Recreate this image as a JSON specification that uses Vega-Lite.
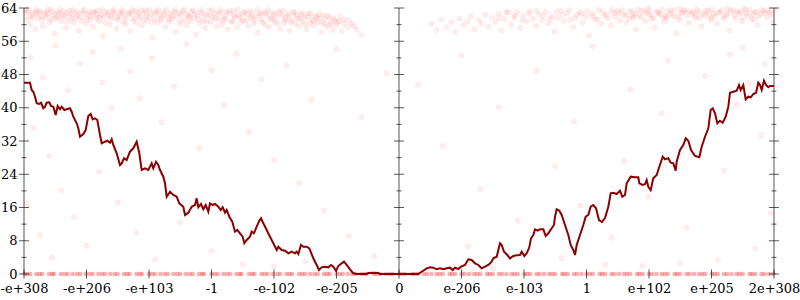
{
"$schema":"https://vega.github.io/schema/vega-lite/v6.json",
"width":750,"height":266,
"autosize":{"type":"none"},
"padding":{"left":24,"top":8,"right":26,"bottom":26},
"background":"white",
"config":{"view":{"stroke":null},"font":"DejaVu Serif"},
"resolve":{"axis":{"x":"independent","y":"independent"}},
"datasets":{
"borders":[{"x":-6},{"x":0},{"x":6}],
"yticks":[{"v":0,"k":"major"},{"v":4,"k":"minor"},{"v":8,"k":"major"},{"v":12,"k":"minor"},{"v":16,"k":"major"},{"v":20,"k":"minor"},{"v":24,"k":"major"},{"v":28,"k":"minor"},{"v":32,"k":"major"},{"v":36,"k":"minor"},{"v":40,"k":"major"},{"v":44,"k":"minor"},{"v":48,"k":"major"},{"v":52,"k":"minor"},{"v":56,"k":"major"},{"v":60,"k":"minor"},{"v":64,"k":"major"}],
"xticks":[{"v":-6},{"v":-5},{"v":-4},{"v":-3},{"v":-2},{"v":-1},{"v":0},{"v":1},{"v":2},{"v":3},{"v":4},{"v":5},{"v":6}],
"pts":[
{"x":-5.98,"y":62.9},{"x":-5.95,"y":61.2},{"x":-5.93,"y":63.4},{"x":-5.9,"y":60.1},{"x":-5.87,"y":62.3},{"x":-5.85,"y":63.0},{"x":-5.82,"y":58.9},{"x":-5.8,"y":62.6},{"x":-5.77,"y":61.5},{"x":-5.75,"y":63.3},{"x":-5.72,"y":62.0},{"x":-5.7,"y":59.7},{"x":-5.67,"y":63.1},{"x":-5.64,"y":61.8},{"x":-5.62,"y":62.7},{"x":-5.59,"y":60.6},{"x":-5.57,"y":63.5},{"x":-5.54,"y":62.2},{"x":-5.51,"y":57.8},{"x":-5.49,"y":61.4},{"x":-5.46,"y":63.0},{"x":-5.44,"y":62.4},{"x":-5.41,"y":60.9},{"x":-5.38,"y":63.2},{"x":-5.36,"y":61.9},{"x":-5.33,"y":59.3},{"x":-5.31,"y":62.8},{"x":-5.28,"y":63.4},{"x":-5.25,"y":61.1},{"x":-5.23,"y":62.5},{"x":-5.2,"y":60.4},{"x":-5.17,"y":63.1},{"x":-5.15,"y":62.0},{"x":-5.12,"y":58.6},{"x":-5.09,"y":61.7},{"x":-5.07,"y":63.3},{"x":-5.04,"y":62.6},{"x":-5.01,"y":60.2},{"x":-4.99,"y":61.3},{"x":-4.96,"y":63.0},{"x":-4.93,"y":62.1},{"x":-4.9,"y":59.5},{"x":-4.88,"y":62.9},{"x":-4.85,"y":61.6},{"x":-4.82,"y":63.4},{"x":-4.8,"y":60.8},{"x":-4.77,"y":62.3},{"x":-4.74,"y":57.2},{"x":-4.72,"y":61.9},{"x":-4.69,"y":63.1},{"x":-4.66,"y":62.4},{"x":-4.63,"y":60.0},{"x":-4.61,"y":61.5},{"x":-4.58,"y":63.2},{"x":-4.55,"y":62.7},{"x":-4.52,"y":59.1},{"x":-4.5,"y":61.2},{"x":-4.47,"y":62.8},{"x":-4.44,"y":63.5},{"x":-4.41,"y":60.6},{"x":-4.39,"y":62.0},{"x":-4.36,"y":61.3},{"x":-4.33,"y":63.0},{"x":-4.3,"y":58.4},{"x":-4.28,"y":62.5},{"x":-4.25,"y":61.0},{"x":-4.22,"y":63.3},{"x":-4.19,"y":60.3},{"x":-4.17,"y":62.2},{"x":-4.14,"y":61.7},{"x":-4.11,"y":59.8},{"x":-4.08,"y":62.9},{"x":-4.05,"y":63.4},{"x":-4.03,"y":60.9},{"x":-4.0,"y":61.8},{"x":-3.97,"y":62.6},{"x":-3.94,"y":56.9},{"x":-3.91,"y":61.4},{"x":-3.89,"y":63.1},{"x":-3.86,"y":60.5},{"x":-3.83,"y":62.3},{"x":-3.8,"y":61.1},{"x":-3.77,"y":63.2},{"x":-3.74,"y":59.4},{"x":-3.71,"y":62.0},{"x":-3.69,"y":60.7},{"x":-3.66,"y":62.7},{"x":-3.63,"y":61.5},{"x":-3.6,"y":63.0},{"x":-3.57,"y":58.2},{"x":-3.54,"y":61.9},{"x":-3.51,"y":60.2},{"x":-3.48,"y":62.5},{"x":-3.46,"y":63.3},{"x":-3.43,"y":61.2},{"x":-3.4,"y":59.9},{"x":-3.37,"y":62.1},{"x":-3.34,"y":60.8},{"x":-3.31,"y":63.1},{"x":-3.28,"y":61.6},{"x":-3.25,"y":57.6},{"x":-3.22,"y":62.4},{"x":-3.19,"y":60.4},{"x":-3.16,"y":62.9},{"x":-3.13,"y":61.0},{"x":-3.1,"y":59.2},{"x":-3.07,"y":62.2},{"x":-3.04,"y":63.4},{"x":-3.01,"y":60.6},{"x":-2.98,"y":61.7},{"x":-2.95,"y":62.8},{"x":-2.92,"y":59.6},{"x":-2.89,"y":61.3},{"x":-2.86,"y":63.0},{"x":-2.83,"y":60.1},{"x":-2.8,"y":62.0},{"x":-2.77,"y":61.4},{"x":-2.74,"y":58.8},{"x":-2.71,"y":62.6},{"x":-2.68,"y":60.9},{"x":-2.65,"y":63.2},{"x":-2.62,"y":61.8},{"x":-2.59,"y":59.3},{"x":-2.56,"y":62.3},{"x":-2.53,"y":60.5},{"x":-2.5,"y":61.1},{"x":-2.47,"y":63.1},{"x":-2.44,"y":62.4},{"x":-2.41,"y":59.7},{"x":-2.38,"y":61.6},{"x":-2.35,"y":62.9},{"x":-2.32,"y":60.3},{"x":-2.29,"y":61.9},{"x":-2.26,"y":58.1},{"x":-2.23,"y":62.7},{"x":-2.2,"y":61.2},{"x":-2.17,"y":63.0},{"x":-2.14,"y":60.0},{"x":-2.11,"y":62.2},{"x":-2.08,"y":59.4},{"x":-2.05,"y":61.5},{"x":-2.02,"y":62.8},{"x":-1.99,"y":60.7},{"x":-1.96,"y":61.8},{"x":-1.93,"y":63.2},{"x":-1.9,"y":59.0},{"x":-1.87,"y":62.1},{"x":-1.84,"y":60.4},{"x":-1.81,"y":61.6},{"x":-1.78,"y":62.6},{"x":-1.75,"y":58.5},{"x":-1.72,"y":61.0},{"x":-1.69,"y":62.9},{"x":-1.66,"y":60.2},{"x":-1.63,"y":61.4},{"x":-1.6,"y":59.6},{"x":-1.57,"y":62.4},{"x":-1.54,"y":60.8},{"x":-1.51,"y":61.9},{"x":-1.48,"y":58.9},{"x":-1.45,"y":62.7},{"x":-1.42,"y":60.3},{"x":-1.39,"y":61.2},{"x":-1.36,"y":59.8},{"x":-1.33,"y":62.0},{"x":-1.3,"y":60.6},{"x":-1.27,"y":61.5},{"x":-1.24,"y":58.3},{"x":-1.21,"y":62.3},{"x":-1.18,"y":60.1},{"x":-1.15,"y":59.4},{"x":-1.12,"y":61.7},{"x":-1.09,"y":60.5},{"x":-1.06,"y":58.7},{"x":-1.03,"y":61.1},{"x":-1.0,"y":59.9},{"x":-0.96,"y":60.8},{"x":-0.92,"y":58.4},{"x":-0.87,"y":61.3},{"x":-0.81,"y":59.5},{"x":-0.75,"y":60.2},{"x":-0.68,"y":58.8},{"x":-0.6,"y":57.5},
{"x":-5.96,"y":63.6},{"x":-5.91,"y":62.0},{"x":-5.86,"y":61.6},{"x":-5.81,"y":63.6},{"x":-5.76,"y":62.9},{"x":-5.71,"y":61.0},{"x":-5.66,"y":62.4},{"x":-5.61,"y":63.7},{"x":-5.56,"y":61.3},{"x":-5.52,"y":62.9},{"x":-5.47,"y":61.8},{"x":-5.42,"y":63.6},{"x":-5.37,"y":62.2},{"x":-5.32,"y":60.7},{"x":-5.27,"y":62.0},{"x":-5.22,"y":63.6},{"x":-5.18,"y":61.5},{"x":-5.13,"y":62.7},{"x":-5.08,"y":60.9},{"x":-5.03,"y":63.6},{"x":-4.98,"y":62.4},{"x":-4.94,"y":61.1},{"x":-4.89,"y":63.2},{"x":-4.84,"y":62.5},{"x":-4.79,"y":61.8},{"x":-4.75,"y":63.6},{"x":-4.7,"y":60.5},{"x":-4.65,"y":62.9},{"x":-4.6,"y":62.0},{"x":-4.56,"y":63.6},{"x":-4.51,"y":61.6},{"x":-4.46,"y":62.2},{"x":-4.42,"y":63.0},{"x":-4.37,"y":60.1},{"x":-4.32,"y":62.6},{"x":-4.27,"y":63.6},{"x":-4.23,"y":61.4},{"x":-4.18,"y":62.9},{"x":-4.13,"y":63.5},{"x":-4.09,"y":61.0},{"x":-4.04,"y":62.1},{"x":-3.99,"y":63.6},{"x":-3.95,"y":60.6},{"x":-3.9,"y":62.7},{"x":-3.85,"y":63.5},{"x":-3.81,"y":61.6},{"x":-3.76,"y":62.4},{"x":-3.72,"y":63.6},{"x":-3.67,"y":61.2},{"x":-3.62,"y":62.0},{"x":-3.58,"y":63.5},{"x":-3.53,"y":62.8},{"x":-3.49,"y":60.9},{"x":-3.44,"y":63.6},{"x":-3.39,"y":62.5},{"x":-3.35,"y":61.9},{"x":-3.3,"y":63.4},{"x":-3.26,"y":62.6},{"x":-3.21,"y":61.3},{"x":-3.17,"y":63.6},{"x":-3.12,"y":62.4},{"x":-3.08,"y":60.7},{"x":-3.03,"y":62.2},{"x":-2.99,"y":63.5},{"x":-2.94,"y":61.5},{"x":-2.9,"y":62.6},{"x":-2.85,"y":63.6},{"x":-2.81,"y":61.0},{"x":-2.76,"y":62.9},{"x":-2.72,"y":63.4},{"x":-2.67,"y":60.6},{"x":-2.63,"y":62.1},{"x":-2.58,"y":63.6},{"x":-2.54,"y":61.7},{"x":-2.49,"y":62.8},{"x":-2.45,"y":60.9},{"x":-2.4,"y":63.3},{"x":-2.36,"y":62.0},{"x":-2.31,"y":61.1},{"x":-2.27,"y":63.6},{"x":-2.22,"y":62.3},{"x":-2.18,"y":60.5},{"x":-2.13,"y":62.8},{"x":-2.09,"y":63.5},{"x":-2.04,"y":61.3},{"x":-2.0,"y":62.4},{"x":-1.95,"y":60.3},{"x":-1.91,"y":62.7},{"x":-1.86,"y":63.4},{"x":-1.82,"y":61.0},{"x":-1.77,"y":62.1},{"x":-1.73,"y":60.6},{"x":-1.68,"y":63.0},{"x":-1.64,"y":62.3},{"x":-1.59,"y":61.4},{"x":-1.55,"y":62.9},{"x":-1.5,"y":60.0},{"x":-1.46,"y":61.9},{"x":-1.41,"y":62.6},{"x":-1.37,"y":60.9},{"x":-1.32,"y":61.7},{"x":-1.28,"y":62.5},{"x":-1.23,"y":60.4},{"x":-1.19,"y":61.3},{"x":-1.14,"y":62.2},{"x":-1.1,"y":60.0},{"x":-1.05,"y":61.6},{"x":-0.99,"y":60.6},{"x":-0.94,"y":61.9},{"x":-0.88,"y":60.3},{"x":-0.8,"y":61.0},{"x":-0.72,"y":59.6},
{"x":0.52,"y":60.1},{"x":0.6,"y":58.7},{"x":0.68,"y":61.2},{"x":0.76,"y":59.4},{"x":0.84,"y":60.6},{"x":0.9,"y":58.2},{"x":0.97,"y":61.5},{"x":1.03,"y":59.9},{"x":1.09,"y":60.8},{"x":1.15,"y":62.0},{"x":1.21,"y":58.9},{"x":1.27,"y":61.1},{"x":1.32,"y":60.3},{"x":1.38,"y":62.4},{"x":1.43,"y":59.5},{"x":1.49,"y":61.8},{"x":1.54,"y":60.7},{"x":1.59,"y":62.6},{"x":1.64,"y":58.6},{"x":1.69,"y":61.3},{"x":1.74,"y":62.9},{"x":1.79,"y":60.0},{"x":1.84,"y":61.7},{"x":1.89,"y":63.0},{"x":1.94,"y":59.2},{"x":1.99,"y":62.2},{"x":2.04,"y":60.8},{"x":2.09,"y":63.3},{"x":2.14,"y":61.4},{"x":2.19,"y":59.7},{"x":2.24,"y":62.5},{"x":2.29,"y":61.0},{"x":2.34,"y":63.1},{"x":2.39,"y":60.4},{"x":2.44,"y":62.0},{"x":2.49,"y":58.3},{"x":2.54,"y":61.6},{"x":2.59,"y":63.4},{"x":2.64,"y":60.9},{"x":2.69,"y":62.7},{"x":2.74,"y":61.2},{"x":2.79,"y":59.4},{"x":2.84,"y":62.3},{"x":2.89,"y":63.0},{"x":2.94,"y":60.6},{"x":2.99,"y":61.9},{"x":3.04,"y":57.4},{"x":3.09,"y":62.6},{"x":3.14,"y":61.3},{"x":3.19,"y":63.5},{"x":3.24,"y":60.2},{"x":3.29,"y":62.1},{"x":3.34,"y":61.5},{"x":3.39,"y":59.8},{"x":3.44,"y":62.8},{"x":3.49,"y":63.3},{"x":3.54,"y":61.0},{"x":3.59,"y":62.4},{"x":3.64,"y":60.5},{"x":3.69,"y":63.1},{"x":3.74,"y":61.7},{"x":3.79,"y":58.8},{"x":3.84,"y":62.2},{"x":3.89,"y":63.4},{"x":3.94,"y":60.9},{"x":3.99,"y":62.6},{"x":4.04,"y":61.4},{"x":4.09,"y":59.3},{"x":4.14,"y":63.0},{"x":4.19,"y":62.3},{"x":4.24,"y":60.7},{"x":4.29,"y":61.8},{"x":4.34,"y":63.5},{"x":4.39,"y":62.0},{"x":4.44,"y":57.9},{"x":4.49,"y":61.2},{"x":4.54,"y":62.9},{"x":4.59,"y":63.3},{"x":4.64,"y":60.4},{"x":4.69,"y":62.5},{"x":4.74,"y":61.6},{"x":4.79,"y":63.1},{"x":4.84,"y":59.6},{"x":4.89,"y":62.2},{"x":4.94,"y":63.4},{"x":4.99,"y":61.1},{"x":5.04,"y":62.7},{"x":5.09,"y":60.3},{"x":5.14,"y":63.0},{"x":5.19,"y":61.9},{"x":5.24,"y":62.4},{"x":5.29,"y":58.5},{"x":5.34,"y":63.2},{"x":5.39,"y":61.5},{"x":5.44,"y":62.8},{"x":5.49,"y":60.8},{"x":5.54,"y":63.5},{"x":5.59,"y":62.1},{"x":5.64,"y":61.2},{"x":5.69,"y":63.0},{"x":5.74,"y":59.9},{"x":5.79,"y":62.6},{"x":5.84,"y":63.4},{"x":5.89,"y":61.7},{"x":5.94,"y":62.9},{"x":5.98,"y":60.6},
{"x":1.6,"y":61.6},{"x":1.72,"y":63.0},{"x":1.85,"y":62.1},{"x":1.97,"y":61.0},{"x":2.08,"y":62.6},{"x":2.2,"y":63.4},{"x":2.31,"y":62.0},{"x":2.42,"y":61.3},{"x":2.52,"y":63.0},{"x":2.62,"y":62.4},{"x":2.72,"y":63.5},{"x":2.82,"y":61.6},{"x":2.92,"y":62.6},{"x":3.01,"y":63.3},{"x":3.1,"y":62.0},{"x":3.18,"y":61.2},{"x":3.26,"y":63.0},{"x":3.33,"y":62.5},{"x":3.4,"y":63.6},{"x":3.46,"y":61.9},{"x":3.52,"y":62.8},{"x":3.57,"y":63.5},{"x":3.63,"y":62.2},{"x":3.68,"y":61.4},{"x":3.73,"y":63.3},{"x":3.78,"y":62.6},{"x":3.83,"y":63.6},{"x":3.88,"y":61.8},{"x":3.93,"y":62.9},{"x":3.97,"y":63.5},{"x":4.02,"y":62.4},{"x":4.07,"y":61.6},{"x":4.12,"y":63.2},{"x":4.16,"y":62.7},{"x":4.21,"y":63.6},{"x":4.26,"y":62.0},{"x":4.31,"y":63.0},{"x":4.36,"y":62.6},{"x":4.41,"y":63.6},{"x":4.46,"y":61.9},{"x":4.51,"y":62.8},{"x":4.56,"y":63.5},{"x":4.61,"y":62.2},{"x":4.66,"y":63.2},{"x":4.71,"y":62.9},{"x":4.76,"y":63.6},{"x":4.81,"y":61.6},{"x":4.86,"y":62.6},{"x":4.91,"y":63.3},{"x":4.96,"y":62.4},{"x":5.01,"y":63.6},{"x":5.06,"y":62.0},{"x":5.11,"y":62.9},{"x":5.16,"y":63.5},{"x":5.21,"y":61.4},{"x":5.26,"y":62.6},{"x":5.31,"y":63.6},{"x":5.36,"y":62.2},{"x":5.41,"y":63.3},{"x":5.46,"y":62.9},{"x":5.51,"y":61.8},{"x":5.56,"y":62.7},{"x":5.61,"y":63.6},{"x":5.66,"y":62.5},{"x":5.71,"y":63.1},{"x":5.76,"y":62.1},{"x":5.81,"y":63.6},{"x":5.86,"y":62.8},{"x":5.91,"y":63.3},{"x":5.96,"y":62.3},{"x":6.0,"y":63.5},{"x":5.68,"y":61.3},{"x":5.52,"y":63.9},{"x":5.25,"y":63.8},{"x":5.0,"y":61.6},{"x":4.75,"y":62.2},{"x":4.5,"y":63.8},{"x":4.25,"y":61.5},{"x":4.0,"y":63.8},{"x":3.75,"y":62.0},
{"x":-5.9,"y":52.1},{"x":-5.7,"y":47.3},{"x":-5.5,"y":55.0},{"x":-5.3,"y":44.2},{"x":-5.1,"y":50.6},{"x":-4.9,"y":53.4},{"x":-4.75,"y":46.1},{"x":-4.6,"y":39.8},{"x":-4.45,"y":54.2},{"x":-4.3,"y":48.7},{"x":-4.15,"y":42.3},{"x":-3.95,"y":51.9},{"x":-3.8,"y":36.5},{"x":-3.6,"y":45.1},{"x":-3.4,"y":55.3},{"x":-3.2,"y":30.2},{"x":-3.0,"y":49.0},{"x":-2.8,"y":40.6},{"x":-2.6,"y":53.0},{"x":-2.4,"y":34.1},{"x":-2.2,"y":46.8},{"x":-2.0,"y":27.4},{"x":-1.8,"y":50.2},{"x":-1.6,"y":21.9},{"x":-1.4,"y":42.0},{"x":-1.2,"y":15.3},{"x":-1.0,"y":54.1},{"x":-0.8,"y":9.1},{"x":-0.6,"y":37.7},{"x":-0.4,"y":4.2},{"x":-0.2,"y":48.3},{"x":-5.85,"y":35.2},{"x":-5.6,"y":28.4},{"x":-5.4,"y":20.1},{"x":-5.2,"y":13.7},{"x":-5.0,"y":6.8},{"x":-4.8,"y":24.6},{"x":-4.5,"y":17.2},{"x":-4.2,"y":9.9},{"x":-3.9,"y":3.5},{"x":-3.5,"y":12.4},{"x":-3.0,"y":5.6},{"x":-2.5,"y":2.3},{"x":-2.0,"y":1.8},{"x":-1.5,"y":3.1},{"x":-5.95,"y":17.0},{"x":-5.75,"y":9.3},{"x":-5.55,"y":3.9},
{"x":0.3,"y":45.5},{"x":0.7,"y":30.8},{"x":1.0,"y":52.6},{"x":1.3,"y":20.4},{"x":1.6,"y":40.1},{"x":1.9,"y":12.8},{"x":2.2,"y":48.9},{"x":2.5,"y":26.0},{"x":2.8,"y":36.7},{"x":3.1,"y":54.8},{"x":3.4,"y":8.7},{"x":3.7,"y":44.4},{"x":4.0,"y":18.5},{"x":4.3,"y":51.3},{"x":4.6,"y":11.2},{"x":4.9,"y":47.6},{"x":5.2,"y":24.9},{"x":5.5,"y":54.5},{"x":5.8,"y":33.3},{"x":5.95,"y":14.6},{"x":5.7,"y":6.1},{"x":5.4,"y":40.7},{"x":5.1,"y":3.3},{"x":4.8,"y":29.0},{"x":4.5,"y":2.6},{"x":4.2,"y":38.6},{"x":3.9,"y":1.9},{"x":3.6,"y":27.2},{"x":3.3,"y":2.2},{"x":2.9,"y":16.4},{"x":2.6,"y":3.8},{"x":2.0,"y":5.2},{"x":1.5,"y":1.4},{"x":1.1,"y":6.7},{"x":5.85,"y":50.5},{"x":5.6,"y":45.9},{"x":5.3,"y":52.8}
],
"zero":[
{"x":-5.99,"y":0},{"x":-5.9,"y":0},{"x":-5.8,"y":0},{"x":-5.71,"y":0},{"x":-5.6,"y":0},{"x":-5.52,"y":0},{"x":-5.41,"y":0},{"x":-5.3,"y":0},{"x":-5.22,"y":0},{"x":-5.1,"y":0},{"x":-5.01,"y":0},{"x":-4.9,"y":0},{"x":-4.81,"y":0},{"x":-4.7,"y":0},{"x":-4.62,"y":0},{"x":-4.5,"y":0},{"x":-4.4,"y":0},{"x":-4.31,"y":0},{"x":-4.2,"y":0},{"x":-4.11,"y":0},{"x":-4.0,"y":0},{"x":-3.9,"y":0},{"x":-3.82,"y":0},{"x":-3.7,"y":0},{"x":-3.61,"y":0},{"x":-3.5,"y":0},{"x":-3.41,"y":0},{"x":-3.3,"y":0},{"x":-3.2,"y":0},{"x":-3.12,"y":0},{"x":-3.0,"y":0},{"x":-2.9,"y":0},{"x":-2.81,"y":0},{"x":-2.7,"y":0},{"x":-2.6,"y":0},{"x":-2.52,"y":0},{"x":-2.4,"y":0},{"x":-2.31,"y":0},{"x":-2.2,"y":0},{"x":-2.1,"y":0},{"x":-2.02,"y":0},{"x":-1.9,"y":0},{"x":-1.8,"y":0},{"x":-1.71,"y":0},{"x":-1.6,"y":0},{"x":-1.5,"y":0},{"x":-1.42,"y":0},{"x":-1.3,"y":0},{"x":-1.2,"y":0},{"x":-1.11,"y":0},{"x":-1.0,"y":0},{"x":-0.9,"y":0},{"x":-0.82,"y":0},{"x":-0.7,"y":0},{"x":-0.6,"y":0},{"x":-0.51,"y":0},{"x":-0.4,"y":0},{"x":-0.3,"y":0},{"x":-0.21,"y":0},{"x":-0.1,"y":0},{"x":0.0,"y":0},{"x":0.1,"y":0},{"x":0.21,"y":0},{"x":0.3,"y":0},{"x":0.4,"y":0},{"x":0.52,"y":0},{"x":0.6,"y":0},{"x":0.7,"y":0},{"x":0.81,"y":0},{"x":0.9,"y":0},{"x":1.0,"y":0},{"x":1.12,"y":0},{"x":1.2,"y":0},{"x":1.3,"y":0},{"x":1.41,"y":0},{"x":1.5,"y":0},{"x":1.6,"y":0},{"x":1.72,"y":0},{"x":1.8,"y":0},{"x":1.9,"y":0},{"x":2.01,"y":0},{"x":2.1,"y":0},{"x":2.2,"y":0},{"x":2.32,"y":0},{"x":2.4,"y":0},{"x":2.5,"y":0},{"x":2.61,"y":0},{"x":2.7,"y":0},{"x":2.8,"y":0},{"x":2.92,"y":0},{"x":3.0,"y":0},{"x":3.1,"y":0},{"x":3.21,"y":0},{"x":3.3,"y":0},{"x":3.4,"y":0},{"x":3.52,"y":0},{"x":3.6,"y":0},{"x":3.7,"y":0},{"x":3.81,"y":0},{"x":3.9,"y":0},{"x":4.0,"y":0},{"x":4.12,"y":0},{"x":4.2,"y":0},{"x":4.3,"y":0},{"x":4.41,"y":0},{"x":4.5,"y":0},{"x":4.6,"y":0},{"x":4.72,"y":0},{"x":4.8,"y":0},{"x":4.9,"y":0},{"x":5.01,"y":0},{"x":5.1,"y":0},{"x":5.2,"y":0},{"x":5.32,"y":0},{"x":5.4,"y":0},{"x":5.5,"y":0},{"x":5.61,"y":0},{"x":5.7,"y":0},{"x":5.8,"y":0},{"x":5.92,"y":0},{"x":5.99,"y":0},
{"x":-5.95,"y":0},{"x":-5.75,"y":0},{"x":-5.55,"y":0},{"x":-5.35,"y":0},{"x":-5.15,"y":0},{"x":-4.95,"y":0},{"x":-4.75,"y":0},{"x":-4.55,"y":0},{"x":-4.35,"y":0},{"x":-4.15,"y":0},{"x":-3.95,"y":0},{"x":-3.75,"y":0},{"x":-3.55,"y":0},{"x":-3.35,"y":0},{"x":-3.15,"y":0},{"x":-2.95,"y":0},{"x":-2.75,"y":0},{"x":-2.55,"y":0},{"x":-2.35,"y":0},{"x":-2.15,"y":0},{"x":-1.95,"y":0},{"x":-1.75,"y":0},{"x":-1.55,"y":0},{"x":-1.35,"y":0},{"x":-1.15,"y":0},{"x":-0.95,"y":0},{"x":-0.75,"y":0},{"x":-0.55,"y":0},{"x":-0.35,"y":0},{"x":-0.15,"y":0},{"x":0.05,"y":0},{"x":0.25,"y":0},{"x":0.45,"y":0},{"x":0.65,"y":0},{"x":0.85,"y":0},{"x":1.05,"y":0},{"x":1.25,"y":0},{"x":1.45,"y":0},{"x":1.65,"y":0},{"x":1.85,"y":0},{"x":2.05,"y":0},{"x":2.25,"y":0},{"x":2.45,"y":0},{"x":2.65,"y":0},{"x":2.85,"y":0},{"x":3.05,"y":0},{"x":3.25,"y":0},{"x":3.45,"y":0},{"x":3.65,"y":0},{"x":3.85,"y":0},{"x":4.05,"y":0},{"x":4.25,"y":0},{"x":4.45,"y":0},{"x":4.65,"y":0},{"x":4.85,"y":0},{"x":5.05,"y":0},{"x":5.25,"y":0},{"x":5.45,"y":0},{"x":5.65,"y":0},{"x":5.85,"y":0}
],
"line":[
{"x":-6.0,"y":46.03},{"x":-5.904,"y":46.03},{"x":-5.877,"y":44.27},{"x":-5.851,"y":43.86},{"x":-5.824,"y":42.66},{"x":-5.797,"y":41.07},{"x":-5.76,"y":40.9},{"x":-5.728,"y":41.21},{"x":-5.712,"y":40.66},{"x":-5.691,"y":39.87},{"x":-5.664,"y":40.25},{"x":-5.637,"y":41.21},{"x":-5.595,"y":41.31},{"x":-5.568,"y":40.42},{"x":-5.531,"y":40.25},{"x":-5.493,"y":38.26},{"x":-5.461,"y":40.42},{"x":-5.424,"y":39.63},{"x":-5.397,"y":40.25},{"x":-5.355,"y":39.46},{"x":-5.317,"y":39.63},{"x":-5.264,"y":39.87},{"x":-5.237,"y":39.05},{"x":-5.211,"y":37.85},{"x":-5.157,"y":36.26},{"x":-5.131,"y":35.06},{"x":-5.104,"y":33.03},{"x":-5.051,"y":33.68},{"x":-5.013,"y":34.65},{"x":-4.971,"y":38.01},{"x":-4.933,"y":38.5},{"x":-4.901,"y":37.22},{"x":-4.864,"y":37.46},{"x":-4.827,"y":37.05},{"x":-4.784,"y":33.44},{"x":-4.757,"y":31.45},{"x":-4.704,"y":31.83},{"x":-4.667,"y":32.07},{"x":-4.624,"y":31.59},{"x":-4.597,"y":32.41},{"x":-4.571,"y":31.04},{"x":-4.517,"y":29.04},{"x":-4.464,"y":26.22},{"x":-4.437,"y":26.63},{"x":-4.4,"y":27.84},{"x":-4.357,"y":27.43},{"x":-4.304,"y":29.43},{"x":-4.251,"y":30.24},{"x":-4.197,"y":31.83},{"x":-4.155,"y":29.04},{"x":-4.117,"y":25.02},{"x":-4.064,"y":25.43},{"x":-4.011,"y":25.02},{"x":-3.957,"y":26.63},{"x":-3.931,"y":25.43},{"x":-3.888,"y":27.02},{"x":-3.851,"y":26.23},{"x":-3.824,"y":25.02},{"x":-3.771,"y":23.41},{"x":-3.744,"y":21.82},{"x":-3.717,"y":18.6},{"x":-3.664,"y":19.8},{"x":-3.611,"y":19.01},{"x":-3.557,"y":18.6},{"x":-3.515,"y":17.01},{"x":-3.451,"y":16.19},{"x":-3.424,"y":14.2},{"x":-3.371,"y":14.75},{"x":-3.317,"y":16.19},{"x":-3.264,"y":16.6},{"x":-3.237,"y":18.21},{"x":-3.211,"y":16.05},{"x":-3.168,"y":16.84},{"x":-3.131,"y":15.57},{"x":-3.093,"y":16.6},{"x":-3.051,"y":14.99},{"x":-3.024,"y":17.01},{"x":-2.981,"y":16.6},{"x":-2.944,"y":16.84},{"x":-2.891,"y":16.19},{"x":-2.853,"y":15.4},{"x":-2.821,"y":16.05},{"x":-2.784,"y":14.75},{"x":-2.757,"y":15.4},{"x":-2.715,"y":13.79},{"x":-2.667,"y":12.58},{"x":-2.624,"y":10.18},{"x":-2.587,"y":10.59},{"x":-2.544,"y":9.79},{"x":-2.501,"y":8.97},{"x":-2.475,"y":7.39},{"x":-2.437,"y":8.18},{"x":-2.384,"y":8.97},{"x":-2.357,"y":10.18},{"x":-2.32,"y":9.79},{"x":-2.277,"y":11.38},{"x":-2.235,"y":12.82},{"x":-2.208,"y":13.4},{"x":-2.171,"y":12.2},{"x":-2.117,"y":10.59},{"x":-2.064,"y":8.97},{"x":-2.011,"y":7.39},{"x":-1.957,"y":5.77},{"x":-1.931,"y":6.57},{"x":-1.877,"y":5.77},{"x":-1.824,"y":5.61},{"x":-1.771,"y":4.98},{"x":-1.717,"y":5.37},{"x":-1.664,"y":4.98},{"x":-1.637,"y":5.37},{"x":-1.611,"y":4.81},{"x":-1.568,"y":6.98},{"x":-1.531,"y":6.57},{"x":-1.477,"y":6.57},{"x":-1.435,"y":6.18},{"x":-1.371,"y":3.78},{"x":-1.317,"y":2.17},{"x":-1.28,"y":0.96},{"x":-1.237,"y":1.61},{"x":-1.184,"y":1.76},{"x":-1.131,"y":1.61},{"x":-1.088,"y":2.17},{"x":-1.051,"y":1.76},{"x":-1.008,"y":0.79},{"x":-0.971,"y":1.92},{"x":-0.917,"y":2.57},{"x":-0.88,"y":2.96},{"x":-0.837,"y":2.17},{"x":-0.784,"y":1.13},{"x":-0.731,"y":0.17},{"x":-0.677,"y":0},{"x":-0.517,"y":0},{"x":-0.491,"y":0.24},{"x":-0.411,"y":0.31},{"x":-0.331,"y":0.24},{"x":-0.304,"y":0},{"x":0.0,"y":0},
{"x":0.309,"y":0},{"x":0.363,"y":0.55},{"x":0.443,"y":1.37},{"x":0.496,"y":1.61},{"x":0.549,"y":1.52},{"x":0.603,"y":1.13},{"x":0.656,"y":1.37},{"x":0.709,"y":1.13},{"x":0.763,"y":1.37},{"x":0.816,"y":1.52},{"x":0.859,"y":0.96},{"x":0.896,"y":1.52},{"x":0.949,"y":1.2},{"x":0.992,"y":1.76},{"x":1.056,"y":2.17},{"x":1.109,"y":3.54},{"x":1.163,"y":3.37},{"x":1.216,"y":2.57},{"x":1.269,"y":2.17},{"x":1.323,"y":1.37},{"x":1.376,"y":1.76},{"x":1.429,"y":2.17},{"x":1.483,"y":2.96},{"x":1.509,"y":3.78},{"x":1.563,"y":4.16},{"x":1.616,"y":7.39},{"x":1.643,"y":6.98},{"x":1.68,"y":5.37},{"x":1.733,"y":4.57},{"x":1.776,"y":3.78},{"x":1.829,"y":4.33},{"x":1.883,"y":4.5},{"x":1.936,"y":4.57},{"x":1.963,"y":5.37},{"x":2.005,"y":4.33},{"x":2.043,"y":4.98},{"x":2.085,"y":6.42},{"x":2.112,"y":8.59},{"x":2.149,"y":9.38},{"x":2.176,"y":10.75},{"x":2.219,"y":10.42},{"x":2.256,"y":10.75},{"x":2.309,"y":10.75},{"x":2.347,"y":9.14},{"x":2.389,"y":9.79},{"x":2.443,"y":11.0},{"x":2.48,"y":11.79},{"x":2.496,"y":13.79},{"x":2.523,"y":15.57},{"x":2.565,"y":15.23},{"x":2.603,"y":14.2},{"x":2.656,"y":11.79},{"x":2.709,"y":9.38},{"x":2.747,"y":6.98},{"x":2.789,"y":5.77},{"x":2.816,"y":4.57},{"x":2.843,"y":6.98},{"x":2.896,"y":9.38},{"x":2.949,"y":11.79},{"x":2.987,"y":13.79},{"x":3.029,"y":14.2},{"x":3.067,"y":16.19},{"x":3.109,"y":16.6},{"x":3.152,"y":15.81},{"x":3.2,"y":12.99},{"x":3.248,"y":12.51},{"x":3.296,"y":13.47},{"x":3.349,"y":16.19},{"x":3.387,"y":19.42},{"x":3.429,"y":19.56},{"x":3.483,"y":19.25},{"x":3.536,"y":20.04},{"x":3.573,"y":18.6},{"x":3.616,"y":19.01},{"x":3.643,"y":21.82},{"x":3.707,"y":23.41},{"x":3.776,"y":23.27},{"x":3.829,"y":23.27},{"x":3.845,"y":21.82},{"x":3.899,"y":21.41},{"x":3.936,"y":21.58},{"x":3.963,"y":22.62},{"x":3.989,"y":21.0},{"x":4.027,"y":20.21},{"x":4.069,"y":23.03},{"x":4.123,"y":23.82},{"x":4.165,"y":25.82},{"x":4.219,"y":28.22},{"x":4.256,"y":27.6},{"x":4.309,"y":27.84},{"x":4.347,"y":26.78},{"x":4.389,"y":26.63},{"x":4.427,"y":24.85},{"x":4.443,"y":27.02},{"x":4.496,"y":29.83},{"x":4.549,"y":31.04},{"x":4.587,"y":32.65},{"x":4.629,"y":32.07},{"x":4.672,"y":29.83},{"x":4.736,"y":28.39},{"x":4.805,"y":28.08},{"x":4.843,"y":30.63},{"x":4.896,"y":33.03},{"x":4.949,"y":35.06},{"x":4.987,"y":39.46},{"x":5.019,"y":39.87},{"x":5.056,"y":38.66},{"x":5.093,"y":36.26},{"x":5.136,"y":36.88},{"x":5.179,"y":36.4},{"x":5.227,"y":37.85},{"x":5.269,"y":40.25},{"x":5.296,"y":43.62},{"x":5.349,"y":43.86},{"x":5.403,"y":44.1},{"x":5.44,"y":45.47},{"x":5.467,"y":44.27},{"x":5.509,"y":45.47},{"x":5.547,"y":42.03},{"x":5.589,"y":42.66},{"x":5.627,"y":42.51},{"x":5.669,"y":43.31},{"x":5.712,"y":43.62},{"x":5.749,"y":46.03},{"x":5.776,"y":45.47},{"x":5.803,"y":44.27},{"x":5.84,"y":46.51},{"x":5.872,"y":45.47},{"x":5.909,"y":44.92},{"x":5.936,"y":45.23},{"x":6.0,"y":45.23}
]
},
"layer":[
{"data":{"name":"borders"},"mark":{"type":"rule","color":"#aaaaaa","strokeWidth":2},
 "encoding":{"x":{"field":"x","type":"quantitative","scale":{"domain":[-6,6],"nice":false,"zero":false},
   "axis":{"orient":"bottom","title":null,"values":[-6,-5,-4,-3,-2,-1,0,1,2,3,4,5,6],"domain":false,"ticks":false,"tickSize":0,"grid":false,"labelPadding":8,"labelFont":"DejaVu Serif","labelFontSize":13,"labelColor":"#000","labelFlush":false,"labelOverlap":false,"labelBound":false,
    "labelExpr":"['-e+308','-e+206','-e+103','-1','-e-102','-e-205','0','e-206','e-103','1','e+102','e+205','2e+308'][datum.value+6]"}}}},
{"mark":{"type":"rule","color":"#aaaaaa","strokeWidth":2},
 "encoding":{"y":{"datum":64,"type":"quantitative","scale":{"domain":[0,64],"nice":false,"zero":false},
   "axis":{"orient":"left","title":null,"values":[0,8,16,24,32,40,48,56,64],"domain":false,"ticks":false,"tickSize":0,"grid":false,"labelPadding":7,"labelFont":"DejaVu Serif","labelFontSize":13,"labelColor":"#000","labelFlush":false,"labelOverlap":false,"labelBound":false}}}},
{"data":{"name":"pts"},
 "mark":{"type":"point","filled":true,"shape":"circle","size":30,"color":"#ff0000","fillOpacity":0.07,"stroke":"#ff0000","strokeOpacity":0.03,"strokeWidth":1},
 "encoding":{"x":{"field":"x","type":"quantitative","axis":null},"y":{"field":"y","type":"quantitative","axis":null}}},
{"data":{"name":"zero"},
 "mark":{"type":"point","filled":true,"shape":"circle","size":22,"color":"#ee2222","fillOpacity":0.35,"strokeWidth":0},
 "encoding":{"x":{"field":"x","type":"quantitative","axis":null},"y":{"field":"y","type":"quantitative","axis":null}}},
{"data":{"name":"yticks"},"mark":{"type":"tick","orient":"horizontal","thickness":1,"color":"#111"},
 "encoding":{"x":{"datum":-6,"type":"quantitative","axis":null},"y":{"field":"v","type":"quantitative","axis":null},
  "size":{"field":"k","type":"nominal","scale":{"domain":["major","minor"],"range":[10,5]},"legend":null}}},
{"data":{"name":"yticks"},"mark":{"type":"tick","orient":"horizontal","thickness":1,"color":"#111"},
 "encoding":{"x":{"datum":0,"type":"quantitative","axis":null},"y":{"field":"v","type":"quantitative","axis":null},
  "size":{"field":"k","type":"nominal","scale":{"domain":["major","minor"],"range":[10,5]},"legend":null}}},
{"data":{"name":"yticks"},"mark":{"type":"tick","orient":"horizontal","thickness":1,"color":"#111"},
 "encoding":{"x":{"datum":6,"type":"quantitative","axis":null},"y":{"field":"v","type":"quantitative","axis":null},
  "size":{"field":"k","type":"nominal","scale":{"domain":["major","minor"],"range":[10,5]},"legend":null}}},
{"data":{"name":"xticks"},"mark":{"type":"tick","orient":"vertical","thickness":1,"size":9,"color":"#111"},
 "encoding":{"x":{"field":"v","type":"quantitative","axis":null},"y":{"datum":0,"type":"quantitative","axis":null}}},
{"data":{"name":"line"},"mark":{"type":"line","color":"#8b0000","strokeWidth":2},
 "encoding":{"x":{"field":"x","type":"quantitative","axis":null},"y":{"field":"y","type":"quantitative","axis":null}}}
]
}
